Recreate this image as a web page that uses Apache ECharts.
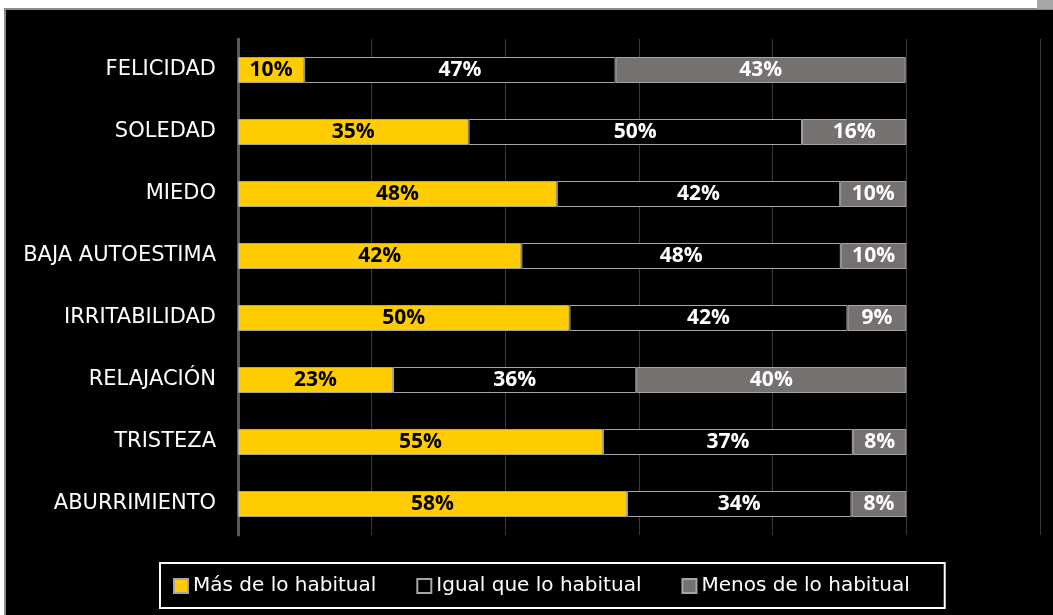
<!DOCTYPE html>
<html>
<head>
<meta charset="utf-8">
<script src="https://cdn.jsdelivr.net/npm/echarts@6/dist/echarts.min.js"></script>
<style>
    html, body { margin: 0; padding: 0; background: #fff; }
    #frame {
        position: absolute; left: 4px; top: 8px; right: 0; bottom: 0;
        background: #000;
        border-top: 2px solid #8c8c8c; border-left: 2px solid #8c8c8c;
    }
    #corner {
        position: absolute; right: 0; top: 0; width: 16px; height: 9px;
        background: #a6a6a6;
    }
    #main { position: absolute; left: 0; top: 0; width: 1053px; height: 615px; }
</style>
</head>
<body>
<div id="frame"></div>
<div id="corner"></div>
<div id="main"></div>
<script>
/* datos */
var categorias = ['FELICIDAD', 'SOLEDAD', 'MIEDO', 'BAJA AUTOESTIMA',
    'IRRITABILIDAD', 'RELAJACIÓN', 'TRISTEZA', 'ABURRIMIENTO'];
var masHabitual = [9.9, 34.5, 47.7, 42.4, 49.6, 23.2, 54.6, 58.2];
var igualHabitual = [46.6, 49.9, 42.4, 47.8, 41.6, 36.4, 37.4, 33.6];
var menosHabitual = [43.4, 15.6, 9.9, 9.8, 8.8, 40.4, 8.0, 8.2];
var nombres = ['Más de lo habitual', 'Igual que lo habitual', 'Menos de lo habitual'];

function serie(nombre, datos, color, colorTexto) {
    return {
        name: nombre,
        type: 'bar',
        stack: 'total',
        barWidth: 26,
        data: datos,
        itemStyle: {
            color: color,
            borderColor: '#a6a6a6',
            borderWidth: 1
        },
        label: {
            show: true,
            position: 'inside',
            color: colorTexto,
            fontFamily: 'Open Sans',
            fontWeight: 'bold',
            fontSize: 21,
            formatter: function(p) {
                return Math.round(p.value) + '%';
            }
        }
    };
}

var chart = echarts.init(document.getElementById('main'));
var option = {
    backgroundColor: 'transparent',
    animation: false,
    grid: {
        left: 238,
        right: 13,
        top: 39,
        height: 496
    },
    legend: {
        data: nombres,
        icon: 'rect',
        left: 160,
        top: 563,
        padding: [13, 35, 12, 13],
        itemGap: 40,
        itemWidth: 14,
        itemHeight: 14,
        borderColor: '#ffffff',
        borderWidth: 2,
        textStyle: {
            color: '#ffffff',
            fontFamily: 'DejaVu Sans',
            fontSize: 20
        }
    },
    xAxis: {
        type: 'value',
        min: 0,
        max: 120,
        interval: 20,
        axisLabel: { show: false },
        axisLine: { show: false },
        axisTick: { show: false },
        splitLine: {
            lineStyle: { color: '#3a3a3a', width: 1 }
        }
    },
    yAxis: {
        type: 'category',
        inverse: true,
        data: categorias,
        axisTick: { show: false },
        axisLine: {
            lineStyle: { color: '#595959', width: 3 }
        },
        axisLabel: {
            color: '#ffffff',
            fontFamily: 'DejaVu Sans',
            fontSize: 21,
            margin: 22
        }
    },
    series: [
        serie(nombres[0], masHabitual, '#ffcc00', '#000000'),
        serie(nombres[1], igualHabitual, '#000000', '#ffffff'),
        serie(nombres[2], menosHabitual, '#767171', '#ffffff')
    ]
};
chart.setOption(option);
</script>
</body>
</html>
